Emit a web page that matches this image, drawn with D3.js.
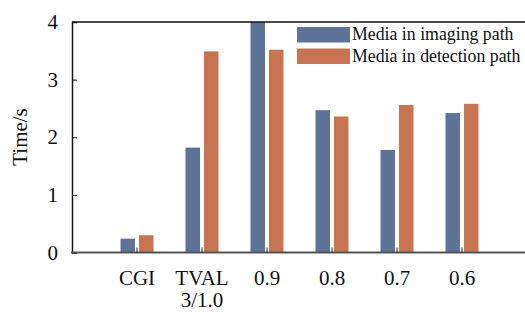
<!DOCTYPE html>
<html>
<head>
<meta charset="utf-8">
<script src="https://cdn.jsdelivr.net/npm/d3@7"></script>
<style>
  body { margin: 0; background: #fff; }
  svg { display: block; font-family: "Liberation Serif", "Times New Roman", serif; }
</style>
</head>
<body>
<script>
const categories = [["CGI"], ["TVAL", "3/1.0"], ["0.9"], ["0.8"], ["0.7"], ["0.6"]]
const imaging = [0.24, 1.82, 4.0, 2.47, 1.78, 2.42]
const detection = [0.30, 3.49, 3.52, 2.36, 2.56, 2.58]
const seriesNames = ["Media in imaging path", "Media in detection path"]
const colors = ["#5f7399", "#c87452"]
const yTicks = [0, 1, 2, 3, 4]

const width = 525, height = 312
const margin = { left: 72, top: 22, right: 0, bottom: 60 }

const svg = d3.select("body").append("svg")
    .attr("width", width)
    .attr("height", height)

const x = d3.scaleLinear()
    .domain([0, categories.length + 1])
    .range([margin.left, margin.left + 65 * (categories.length + 1)])

const y = d3.scaleLinear()
    .domain([0, 4])
    .range([252.5, margin.top])

// bars
const series = [imaging, detection]
series.forEach((vals, s) => {
  svg.append("g").selectAll("rect")
    .data(vals)
    .join("rect")
    .attr("x", (d, i) => s === 0 ? x(i + 1) - 16.5 : x(i + 1) + 2)
    .attr("width", 14.5)
    .attr("y", d => y(d))
    .attr("height", d => y(0) - y(d))
    .attr("fill", colors[s])
})

// top border
svg.append("line")
    .attr("x1", margin.left).attr("x2", width)
    .attr("y1", y(4)).attr("y2", y(4))
    .attr("stroke", "#111").attr("stroke-width", 1.5)

// y axis
const yAxis = svg.append("g")
    .attr("transform", `translate(${margin.left},0)`)
    .call(d3.axisLeft(y).tickValues(yTicks).tickSize(-5).tickPadding(14).tickFormat(d3.format("d")))
yAxis.select(".domain").attr("stroke", "#111").attr("stroke-width", 1.5)
yAxis.selectAll(".tick line").attr("stroke", "#111")
yAxis.selectAll("text").attr("font-size", 21).attr("fill", "#111")
    .attr("font-family", "Liberation Serif")

// x axis
svg.append("line")
    .attr("x1", margin.left - 1).attr("x2", width)
    .attr("y1", y(0)).attr("y2", y(0))
    .attr("stroke", "#555").attr("stroke-width", 2)

svg.append("g").selectAll("line")
    .data(categories)
    .join("line")
    .attr("x1", (d, i) => x(i + 1)).attr("x2", (d, i) => x(i + 1))
    .attr("y1", y(0)).attr("y2", y(0) - 5)
    .attr("stroke", "#222")

const xl = svg.append("g").selectAll("text")
    .data(categories)
    .join("text")
    .attr("text-anchor", "middle")
    .attr("font-size", 21)
    .attr("fill", "#111")
xl.selectAll("tspan")
    .data((d, i) => d.map(t => ({ t, i })))
    .join("tspan")
    .attr("x", d => x(d.i + 1))
    .attr("y", (d, j) => 285 + j * 22)
    .text(d => d.t)

// y label
svg.append("text")
    .attr("transform", `translate(27,137) rotate(-90)`)
    .attr("text-anchor", "middle")
    .attr("font-size", 21)
    .attr("fill", "#111")
    .text("Time/s")

// legend
const legend = svg.append("g")
seriesNames.forEach((name, s) => {
  legend.append("rect")
    .attr("x", 297).attr("y", 27 + s * 21.5)
    .attr("width", 53).attr("height", 15.5)
    .attr("fill", colors[s])
  legend.append("text")
    .attr("x", 352).attr("y", 40 + s * 21.5)
    .attr("font-size", 17.8)
    .attr("fill", "#111")
    .text(name)
})
</script>
</body>
</html>
